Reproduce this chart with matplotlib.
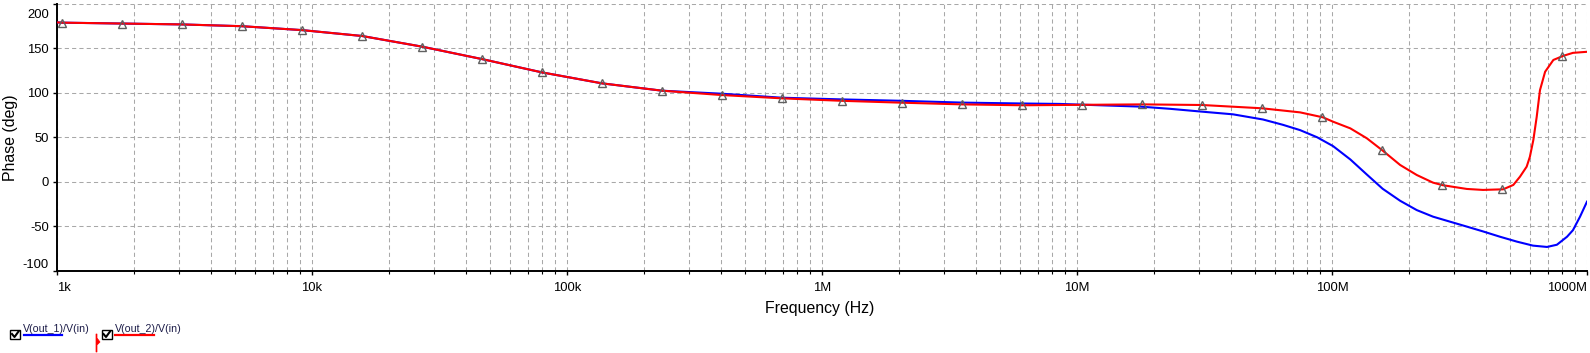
import matplotlib
matplotlib.use('Agg')
import matplotlib.pyplot as plt
import numpy as np
from matplotlib.patches import Rectangle, Polygon
from matplotlib.lines import Line2D
from matplotlib.transforms import ScaledTranslation

plt.rcParams['font.family'] = ['Liberation Sans', 'DejaVu Sans']

# ---------------- data ----------------
freq_red = [1e3, 1.046e3, 1.80e3, 3.09e3, 5.31e3, 9.14e3, 15.7e3, 27.0e3, 46.4e3,
            79.8e3, 137e3, 236e3, 405e3, 697e3, 1.20e6, 2.06e6, 3.54e6, 6.09e6,
            10.5e6, 18.0e6, 30.9e6, 53.1e6, 75.0e6, 92.2e6, 101e6, 118e6, 137e6,
            158e6, 185e6, 215e6, 249e6, 272e6, 338e6, 391e6, 469e6, 514e6, 546e6,
            580e6, 597e6, 616e6, 635e6, 654e6, 685e6, 738e6, 808e6, 881e6, 1000e6]
phase_red = [179.3, 179, 178, 177, 175, 170.6, 164, 152, 138,
             123, 110.7, 102.4, 97.5, 93.8, 91, 88.9, 87, 86,
             86.5, 87, 86.3, 82.6, 78, 72.4, 67.5, 60, 48.8,
             35, 18.8, 7.5, -1.1, -4, -8.2, -9.3, -8.6, -3.7, 5.6,
             16.9, 28, 46.9, 73, 103, 123.7, 137, 141.7, 145, 146.2]

freq_blue = [1e3, 1.046e3, 1.80e3, 3.09e3, 5.31e3, 9.14e3, 15.7e3, 27.0e3, 46.4e3,
             79.8e3, 137e3, 236e3, 405e3, 697e3, 1.20e6, 2.06e6, 3.54e6, 6.09e6,
             8.58e6, 12.3e6, 17.7e6, 23.2e6, 30.4e6, 40.9e6, 53.6e6, 64.2e6, 75.0e6,
             87.4e6, 101e6, 118e6, 137e6, 158e6, 185e6, 215e6, 249e6, 290e6, 338e6,
             391e6, 456e6, 531e6, 614e6, 697e6, 762e6, 835e6, 881e6, 939e6, 1000e6]
phase_blue = [179.3, 179, 178, 177, 175, 170.6, 164, 152, 138,
              123, 110.7, 102.4, 99, 94.5, 92.6, 91, 89, 88,
              87.5, 86, 84.5, 82, 79, 75.8, 70, 64, 58,
              50, 40, 25, 8, -8, -21.5, -32, -39.4, -45, -50.6,
              -56, -62, -67.5, -72, -73.5, -71, -62, -54.6, -39.4, -22.5]

# cursor-style markers evenly spaced in log frequency along the red trace
marker_first, marker_last, marker_count = 1046, 798e6, 26

x_major = [1e3, 1e4, 1e5, 1e6, 1e7, 1e8, 1e9]
x_labels = ['1k', '10k', '100k', '1M', '10M', '100M', '1000M']
y_ticks = [-100, -50, 0, 50, 100, 150, 200]
y_labels = ['-100', '-50', '0', '50', '100', '150', '200']
legend_labels = ['V(out_1)/V(in)', 'V(out_2)/V(in)']

# ---------------- figure ----------------
W, H = 1590, 353
fig = plt.figure(figsize=(W / 100, H / 100), dpi=100)
ax = fig.add_axes([57 / W, 1 - 270.5 / H, 1530 / W, 266.5 / H])

ax.set_xscale('log')
ax.set_xlim(1e3, 1e9)
ax.set_ylim(-100, 200)

minor = [m * 10 ** e for e in range(3, 9) for m in range(2, 10)]
ax.set_xticks(x_major)
ax.set_xticklabels(x_labels)
ax.set_xticks(minor, minor=True)
ax.set_xticklabels([], minor=True)
ax.set_yticks(y_ticks)
ax.set_yticklabels(y_labels)

grid_kw = dict(color='#a8a8a8', linestyle=(0, (4, 3)), linewidth=0.75)
ax.grid(which='major', axis='both', **grid_kw)
ax.grid(which='minor', axis='x', **grid_kw)
ax.set_axisbelow(True)

for s in ['top', 'right']:
    ax.spines[s].set_visible(False)
for s in ['left', 'bottom']:
    ax.spines[s].set_linewidth(1.4)
    ax.spines[s].set_color('black')

ax.tick_params(axis='both', which='major', direction='out', length=3, width=1,
               labelsize=9.4, colors='black')
ax.tick_params(axis='x', which='major', pad=5)
ax.tick_params(axis='y', which='major', pad=3)
ax.tick_params(axis='x', which='minor', direction='out', length=1.8, width=0.8)

xl = ax.get_xticklabels()
xl[0].set_ha('left')
xl[-1].set_ha('right')
yl = ax.get_yticklabels()
yl[0].set_va('bottom')
yl[-1].set_va('top')
yl[-1].set_transform(yl[-1].get_transform() +
                     ScaledTranslation(0, -3.5 / 72, fig.dpi_scale_trans))

ax.plot(freq_blue, phase_blue, color='#0000ff', lw=1.5, zorder=3, clip_on=True)
ax.plot(freq_red, phase_red, color='#ff0000', lw=1.5, zorder=4, clip_on=True)

mf = np.logspace(np.log10(marker_first), np.log10(marker_last), marker_count)
mv = np.interp(np.log10(mf), np.log10(freq_red), phase_red)
ax.plot(mf, mv, linestyle='none', marker='^', markersize=5.8,
        markerfacecolor='none', markeredgecolor='#606060', markeredgewidth=1.0,
        zorder=5)

# axis labels
fig.text(819.5 / W, 1 - 313 / H, 'Frequency (Hz)', ha='center', va='baseline',
         fontsize=11.4, color='black')
fig.text(11 / W, 1 - 138 / H, 'Phase (deg)', ha='center', va='center',
         rotation=90, fontsize=11.4, color='black')

# ---------------- legend (drawn in pixel coords) ----------------
def P(x, y):
    return (x / W, 1 - y / H)

def checkbox(x0):
    fig.patches.append(Rectangle(P(x0, 339), 10 / W, 9 / H, transform=fig.transFigure,
                                 facecolor='white', edgecolor='black', lw=1.0))
    pts = [P(x0 + 2, 334), P(x0 + 4.5, 337), P(x0 + 8.5, 331.5)]
    fig.lines.append(Line2D([p[0] for p in pts], [p[1] for p in pts],
                            transform=fig.transFigure, color='black', lw=1.5))

checkbox(10)
fig.text(23.3 / W, 1 - 331.7 / H, legend_labels[0], ha='left', va='baseline',
         fontsize=7.7, color='#1c1c48')
fig.lines.append(Line2D([P(24, 0)[0], P(62, 0)[0]], [P(0, 335)[1]] * 2,
                        transform=fig.transFigure, color='#0000ff', lw=1.6))

# red active-trace flag
fig.patches.append(Polygon([P(96, 334), P(96, 352), P(97, 352), P(97, 345),
                            P(100, 342), P(97, 338), P(97, 334)],
                           closed=True, transform=fig.transFigure,
                           facecolor='#ff0000', edgecolor='#ff0000', lw=0.5))
checkbox(101.5)
fig.text(115 / W, 1 - 331.7 / H, legend_labels[1], ha='left', va='baseline',
         fontsize=7.7, color='#1c1c48')
fig.lines.append(Line2D([P(115, 0)[0], P(154, 0)[0]], [P(0, 335)[1]] * 2,
                        transform=fig.transFigure, color='#ff0000', lw=1.6))

fig.savefig('out.png', dpi=100)
